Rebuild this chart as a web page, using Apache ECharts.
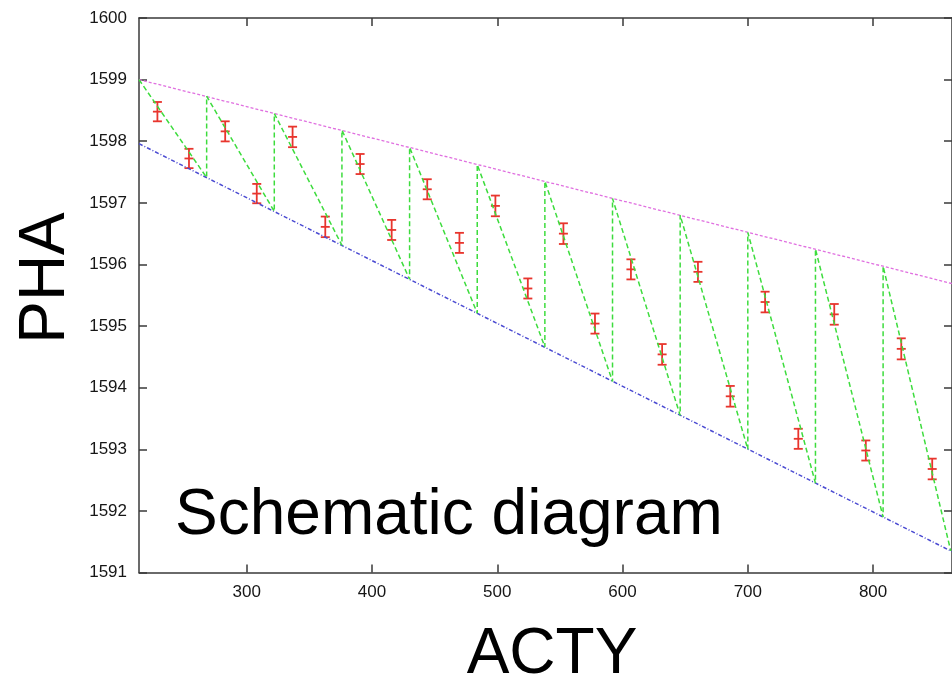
<!DOCTYPE html>
<html>
<head>
<meta charset="utf-8">
<script src="https://cdn.jsdelivr.net/npm/echarts@6/dist/echarts.min.js"></script>
<style>
html,body{margin:0;padding:0;background:#fff;}
#chart{width:952px;height:677px;}
</style>
</head>
<body>
<div id="chart"></div>
<script>
// ---- data ----
const xTicks = [300, 400, 500, 600, 700, 800];
const xRange = [214, 863];
const yRange = [1591, 1600];

// envelope lines (end points)
const envX = [214, 863];
const upperY = [1599.00, 1595.69];
const lowerY = [1597.96, 1591.34];

// sawtooth vertices
const sawX = [214, 268, 322, 376, 430, 484, 538, 592, 646, 700, 754, 808, 862];
const sawTop = [1599.00, 1598.73, 1598.45, 1598.18, 1597.90, 1597.62, 1597.35, 1597.07, 1596.80, 1596.52, 1596.25, 1595.97, 1595.70];
const sawBottom = [1597.96, 1597.41, 1596.86, 1596.31, 1595.76, 1595.21, 1594.66, 1594.10, 1593.55, 1593.00, 1592.45, 1591.90, 1591.35];

// measured points with error bars
const pointX = [228.7, 253.9, 282.8, 308.0, 336.6, 362.7, 390.5, 415.7, 444.1, 469.8, 498.5, 524.4,
                552.8, 578.0, 606.7, 631.6, 660.2, 686.0, 713.8, 740.3, 769.0, 794.2, 822.5, 847.2];
const pointY = [1598.48, 1597.72, 1598.16, 1597.15, 1598.07, 1596.61, 1597.63, 1596.56, 1597.22, 1596.35, 1596.95, 1595.61,
                1596.50, 1595.04, 1595.92, 1594.54, 1595.88, 1593.86, 1595.39, 1593.17, 1595.19, 1592.98, 1594.63, 1592.68];
const pointErr = [0.157, 0.157, 0.163, 0.157, 0.167, 0.167, 0.163, 0.163, 0.163, 0.163, 0.168, 0.163,
                  0.168, 0.163, 0.163, 0.168, 0.163, 0.168, 0.168, 0.163, 0.168, 0.163, 0.171, 0.168];

const title = 'Schematic diagram';
const xName = 'ACTY';
const yName = 'PHA';

// ---- build series data ----
const sawData = [];
for (let i = 0; i < sawX.length; i++) {
  if (i === 0) {
    sawData.push([sawX[i], sawTop[i]]);
  } else {
    sawData.push([sawX[i], sawBottom[i]]);
    sawData.push([sawX[i], sawTop[i]]);
  }
}
sawData.pop(); // last vertex ends on the lower line
const upperData = envX.map((x, i) => [x, upperY[i]]);
const lowerData = envX.map((x, i) => [x, lowerY[i]]);
const errData = pointX.map((x, i) => [x, pointY[i], pointErr[i]]);

const FONT = '"Liberation Sans", Arial, Helvetica, sans-serif';
const AXIS_COLOR = '#3a3a3a';
const plain = v => String(v);

const chart = echarts.init(document.getElementById('chart'), null, {renderer: 'canvas'});

const baseAxisLine = {show: true, lineStyle: {color: AXIS_COLOR, width: 1.5}};

chart.setOption({
  animation: false,
  backgroundColor: '#fff',
  grid: {left: 139, top: 18, right: -3, bottom: 104.5, containLabel: false},
  xAxis: [
    {
      type: 'value', position: 'bottom', min: xRange[0], max: xRange[1],
      axisLine: baseAxisLine,
      axisTick: {show: true, inside: true, length: 8, customValues: xTicks, lineStyle: {color: AXIS_COLOR, width: 1.5}},
      axisLabel: {show: true, customValues: xTicks, margin: 11, color: '#161616', fontSize: 17, fontFamily: FONT, formatter: plain},
      splitLine: {show: false}
    },
    {
      type: 'value', position: 'top', min: xRange[0], max: xRange[1],
      axisLine: baseAxisLine,
      axisTick: {show: true, inside: true, length: 8, customValues: xTicks, lineStyle: {color: AXIS_COLOR, width: 1.5}},
      axisLabel: {show: false},
      splitLine: {show: false}
    }
  ],
  yAxis: [
    {
      type: 'value', position: 'left', min: yRange[0], max: yRange[1], interval: 1,
      axisLine: baseAxisLine,
      axisTick: {show: true, inside: true, length: 8, lineStyle: {color: AXIS_COLOR, width: 1.5}},
      axisLabel: {show: true, margin: 12, color: '#161616', fontSize: 17, fontFamily: FONT, formatter: plain},
      splitLine: {show: false}
    },
    {
      type: 'value', position: 'right', min: yRange[0], max: yRange[1], interval: 1,
      axisLine: baseAxisLine,
      axisTick: {show: true, inside: true, length: 8, lineStyle: {color: AXIS_COLOR, width: 1.5}},
      axisLabel: {show: false},
      splitLine: {show: false}
    }
  ],
  series: [
    {
      type: 'line', name: 'upper', data: upperData, showSymbol: false, silent: true,
      lineStyle: {color: '#e070e0', width: 1.3, type: [3, 2]}
    },
    {
      type: 'line', name: 'lower', data: lowerData, showSymbol: false, silent: true,
      lineStyle: {color: '#4b4bd2', width: 1.5, type: [4, 2, 1, 2]}
    },
    {
      type: 'line', name: 'saw', data: sawData, showSymbol: false, silent: true,
      lineStyle: {color: '#3ddc3d', width: 1.5, type: [5, 3]}
    },
    {
      type: 'custom', name: 'points', data: errData, silent: true,
      encode: {x: 0, y: 1},
      renderItem: function (params, api) {
        const x = api.value(0), y = api.value(1), e = api.value(2);
        const c = api.coord([x, y]);
        const hi = api.coord([x, y + e]);
        const lo = api.coord([x, y - e]);
        const w = 4.5;
        const style = {stroke: '#e8352d', lineWidth: 1.8, fill: null};
        return {
          type: 'group',
          children: [
            {type: 'line', shape: {x1: c[0], y1: hi[1], x2: c[0], y2: lo[1]}, style: style},
            {type: 'line', shape: {x1: c[0] - w, y1: hi[1], x2: c[0] + w, y2: hi[1]}, style: style},
            {type: 'line', shape: {x1: c[0] - w, y1: lo[1], x2: c[0] + w, y2: lo[1]}, style: style},
            {type: 'line', shape: {x1: c[0] - w, y1: c[1], x2: c[0] + w, y2: c[1]}, style: style}
          ]
        };
      }
    }
  ],
  graphic: [
    {
      type: 'text', x: 175, y: 516, silent: true,
      style: {text: title, fontSize: 64, fontFamily: FONT, fill: '#000', align: 'left', verticalAlign: 'middle'}
    },
    {
      type: 'text', x: 552, y: 655, silent: true,
      style: {text: xName, fontSize: 64, fontFamily: FONT, fill: '#000', align: 'center', verticalAlign: 'middle'}
    },
    {
      type: 'text', x: 46, y: 278, rotation: Math.PI / 2, silent: true,
      style: {text: yName, fontSize: 64, fontFamily: FONT, fill: '#000', align: 'center', verticalAlign: 'middle'}
    }
  ]
});
</script>
</body>
</html>
